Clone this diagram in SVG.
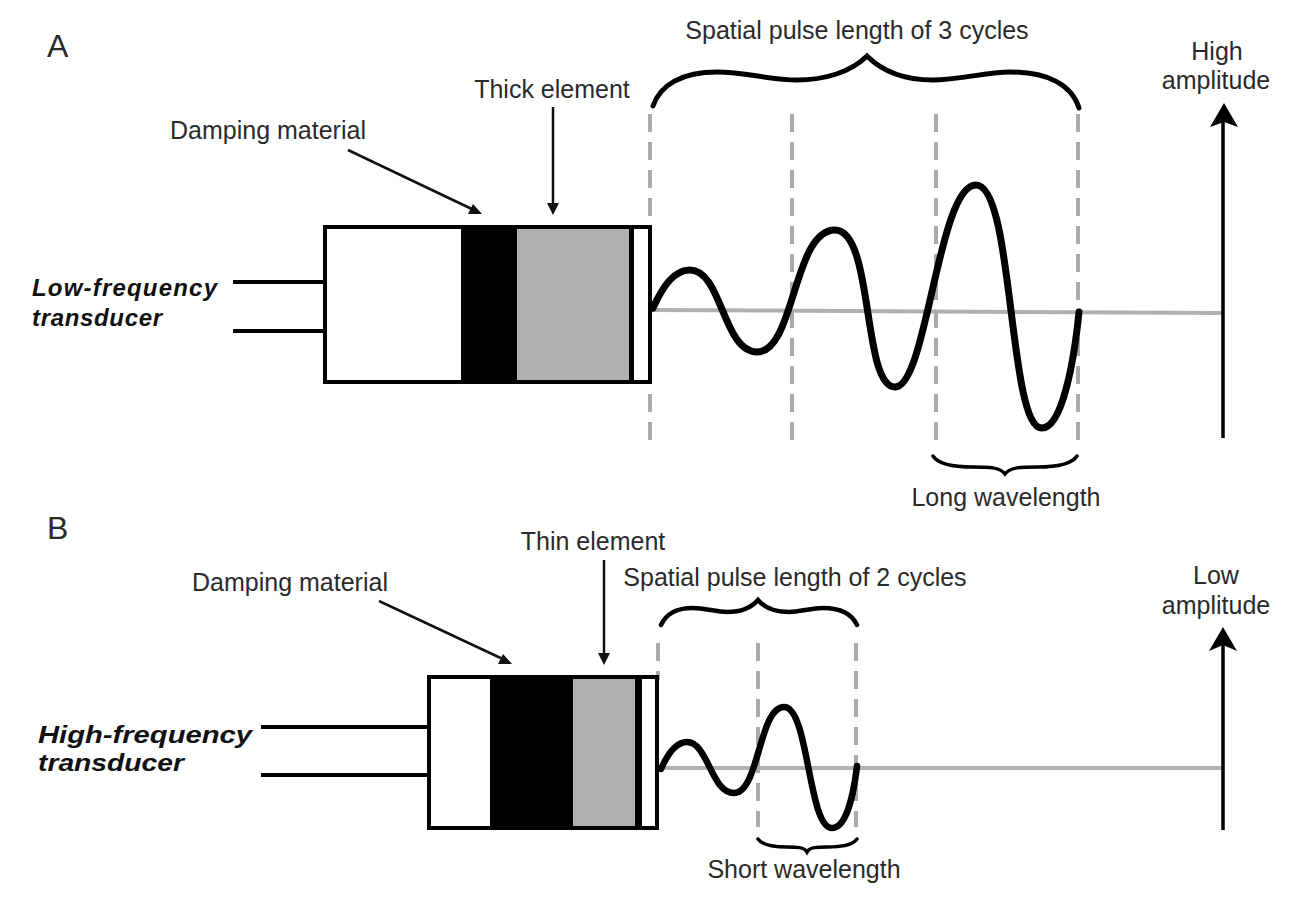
<svg xmlns="http://www.w3.org/2000/svg" width="1303" height="897" viewBox="0 0 1303 897">
<style>
text{font-family:"Liberation Sans",Arial,sans-serif;font-size:25px;fill:#2a2a2a}
.c{text-anchor:middle}
.t{font-weight:bold;font-style:italic;font-size:24px;fill:#111}
.big{font-size:32px}
.box{fill:#fff;stroke:#000;stroke-width:4}
.w{fill:none;stroke:#000;stroke-width:4}
.wave{fill:none;stroke:#000;stroke-width:7;stroke-linecap:round;stroke-linejoin:round}
.br{fill:none;stroke:#000;stroke-linecap:round}
.d{fill:none;stroke:#aaa;stroke-width:4;stroke-dasharray:18 10}
.base{stroke:#b0b0b0;stroke-width:4;fill:none}
.a{stroke:#111;stroke-width:2.5;fill:none}
.ax{stroke:#000;stroke-width:3.5;fill:none}
</style>
<rect width="1303" height="897" fill="#fff"/>
<g id="connectors">
<path class="base" d="M652 310L1222 313"/>
<path class="base" d="M660 768H1222"/>
<path class="d" d="M650 114V440M792 114V440M936 114V440M1078 114V440"/>
<path class="d" d="M658 643V680M758 643V827M856 643V827"/>
<path class="w" d="M233 282H324M233 331H324M261 727H428M261 775H428"/>
<path class="a" d="M348 150L476 211M553 107V210M379 601L507 661M604 560V661"/>
<path d="M482 214L468 214L473 204ZM553 215L547 203H559ZM512 664L498 664L503 654ZM604 665L598 653H610Z" fill="#111"/>
<path class="ax" d="M1223 438V115M1223 830V640"/>
<path d="M1224 103L1238 127L1224 122L1210 127ZM1223 627L1237 651L1223 645L1209 651Z" fill="#000"/>
<path class="wave" d="M653 308C663 286 674 270 690 270C722 270 723 352 757 352C795 352 793 230 835 230C874 230 862 387 895 387C927 387 938 185 976 185C1014 185 1008 428 1042 428C1062 428 1074 362 1079 312"/>
<path class="wave" style="stroke-width:6.5" d="M661 769C668 753 676 742 687 742C708 742 711 793 734 793C759 793 759 707 784 707C809 707 808 828 832 828C845 828 853 800 857 766"/>
<path class="br" stroke-width="5" d="M653 106C660 85 682 72 717 72C745 72 770 80 797 80C825 80 851 72 867 56C883 72 905 80 933 80C960 80 985 72 1010 72C1048 72 1072 85 1079 108"/>
<path class="br" stroke-width="4.5" d="M661 625C667 612 678 608 693 608C705 608 716 612 727 612C741 612 752 607 758 600C764 607 775 612 789 612C800 612 811 608 823 608C838 608 851 612 857 625"/>
<path class="br" stroke-width="3.5" d="M933 456C938 464 952 467 973 467C988 467 1000 467 1005 474C1010 467 1022 467 1037 467C1058 467 1072 464 1077 456"/>
<path class="br" stroke-width="3.5" d="M758 839C763 846 775 847 787 847C797 847 804 847 807 852C810 847 817 847 827 847C840 847 852 846 857 839"/>
</g>
<g id="transducer-a">
<rect class="box" x="325" y="227" width="325" height="155"/>
<rect x="461" y="227" width="56" height="155" fill="#000"/>
<rect x="517" y="229" width="112" height="151" fill="#b0b0b0"/>
<rect x="629" y="227" width="5" height="155" fill="#000"/>
</g>
<g id="transducer-b">
<rect class="box" x="429" y="677" width="228" height="151"/>
<rect x="490" y="677" width="83" height="151" fill="#000"/>
<rect x="573" y="679" width="62" height="147" fill="#b0b0b0"/>
<rect x="635" y="677" width="7" height="151" fill="#000"/>
</g>
<g id="labels">
<text class="big" x="47" y="57">A</text>
<text class="big" x="47" y="539">B</text>
<text class="c" x="857" y="39">Spatial pulse length of 3 cycles</text>
<text class="c" x="1217" y="60">High</text>
<text class="c" x="1216" y="89">amplitude</text>
<text class="c" x="552" y="98">Thick element</text>
<text class="c" x="268" y="139">Damping material</text>
<text class="t" x="32" y="296" textLength="185" lengthAdjust="spacing">Low-frequency</text>
<text class="t" x="32" y="326" textLength="130" lengthAdjust="spacing">transducer</text>
<text class="c" x="1006" y="506">Long wavelength</text>
<text class="c" x="593" y="550">Thin element</text>
<text class="c" x="795" y="586">Spatial pulse length of 2 cycles</text>
<text class="c" x="1216" y="584">Low</text>
<text class="c" x="1216" y="614">amplitude</text>
<text class="c" x="290" y="591">Damping material</text>
<text class="t" x="38" y="743" textLength="214" lengthAdjust="spacingAndGlyphs">High-frequency</text>
<text class="t" x="38" y="771" textLength="146" lengthAdjust="spacingAndGlyphs">transducer</text>
<text class="c" x="804" y="878">Short wavelength</text>
</g>
</svg>
